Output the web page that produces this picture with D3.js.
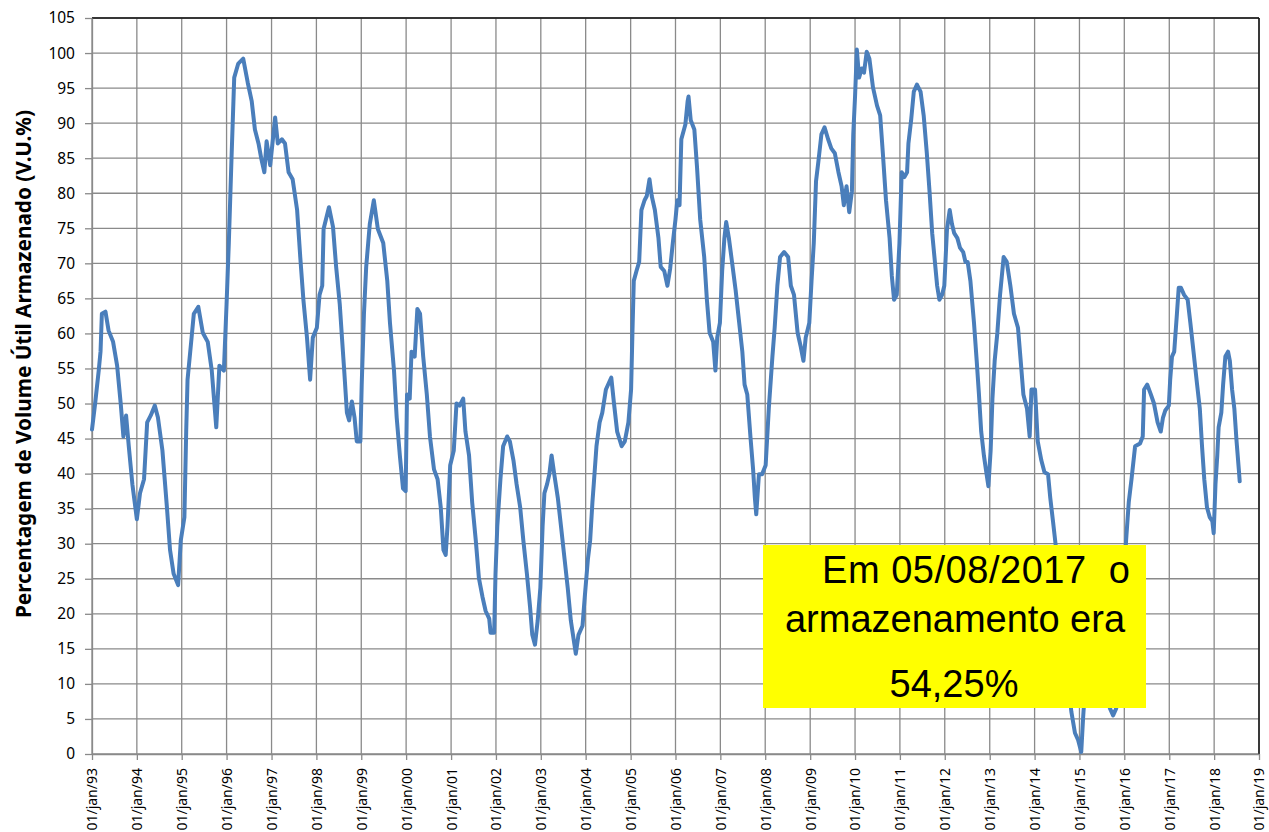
<!DOCTYPE html>
<html>
<head>
<meta charset="utf-8">
<script src="https://cdn.jsdelivr.net/npm/d3@7"></script>
<style>
  body { margin: 0; background: #fff; }
  svg { display: block; }
</style>
</head>
<body>
<svg id="chart" width="1269" height="832"></svg>
<script>
// Série: [ano decimal, % do volume útil]
const serie = [
  [1993.00,46.3],[1993.07,50.0],[1993.15,54.7],[1993.19,57.4],[1993.22,62.8],[1993.30,63.1],[1993.37,60.4],
  [1993.47,58.8],[1993.56,55.4],[1993.64,50.0],[1993.70,45.3],[1993.76,48.3],[1993.82,43.9],[1993.90,38.5],
  [1994.00,33.5],[1994.07,37.2],[1994.16,39.2],[1994.23,47.3],[1994.31,48.3],[1994.40,49.7],[1994.47,48.0],
  [1994.57,43.3],[1994.67,35.2],[1994.74,29.1],[1994.82,25.7],[1994.92,24.1],[1994.98,30.5],[1995.06,33.8],
  [1995.10,46.0],[1995.13,53.4],[1995.22,59.4],[1995.27,62.8],[1995.37,63.8],[1995.47,60.1],[1995.58,58.8],
  [1995.67,54.7],[1995.77,46.6],[1995.84,55.4],[1995.94,54.7],[1996.00,64.2],[1996.05,72.9],[1996.11,85.0],
  [1996.17,96.5],[1996.26,98.5],[1996.37,99.2],[1996.47,95.8],[1996.56,93.1],[1996.63,89.1],[1996.71,87.1],
  [1996.77,85.0],[1996.84,83.0],[1996.89,87.4],[1996.97,84.0],[1997.08,90.8],[1997.14,87.1],[1997.23,87.7],
  [1997.30,87.1],[1997.38,83.0],[1997.47,82.0],[1997.57,77.6],[1997.64,70.9],[1997.71,64.8],[1997.79,59.4],
  [1997.86,53.4],[1997.92,59.4],[1998.01,60.8],[1998.07,65.5],[1998.13,66.8],[1998.16,74.9],[1998.28,78.0],
  [1998.37,75.2],[1998.44,69.5],[1998.52,64.2],[1998.57,59.4],[1998.62,54.7],[1998.68,48.7],[1998.73,47.6],
  [1998.79,50.3],[1998.85,48.0],[1998.90,44.6],[1998.98,44.6],[1999.01,52.7],[1999.06,62.8],[1999.11,69.5],
  [1999.19,75.6],[1999.28,79.0],[1999.37,74.9],[1999.49,72.9],[1999.58,67.5],[1999.64,61.5],[1999.73,54.7],
  [1999.79,48.0],[1999.86,42.6],[1999.93,37.9],[1999.99,37.5],[2000.02,51.3],[2000.08,50.7],[2000.12,57.4],
  [2000.19,56.7],[2000.25,63.5],[2000.31,62.8],[2000.38,56.7],[2000.46,51.3],[2000.53,45.3],[2000.62,40.6],
  [2000.70,39.2],[2000.77,35.2],[2000.83,29.1],[2000.88,28.4],[2000.92,32.5],[2000.98,41.2],[2001.06,43.3],
  [2001.12,50.0],[2001.19,49.7],[2001.27,50.7],[2001.32,46.0],[2001.40,42.6],[2001.47,35.9],[2001.55,30.5],
  [2001.62,25.1],[2001.70,22.4],[2001.77,20.4],[2001.85,19.3],[2001.88,17.3],[2001.96,17.3],[2001.99,25.7],
  [2002.03,32.5],[2002.10,39.2],[2002.16,43.9],[2002.25,45.3],[2002.31,44.6],[2002.39,41.9],[2002.46,38.5],
  [2002.54,35.2],[2002.61,30.5],[2002.69,25.7],[2002.76,21.0],[2002.81,17.0],[2002.87,15.6],[2002.93,19.0],
  [2002.99,23.7],[2003.04,32.5],[2003.08,37.2],[2003.14,38.5],[2003.19,39.9],[2003.24,42.6],[2003.30,39.9],
  [2003.38,36.5],[2003.45,32.5],[2003.53,27.8],[2003.60,23.7],[2003.67,19.0],[2003.75,15.6],[2003.78,14.3],
  [2003.84,17.0],[2003.93,18.3],[2003.98,22.4],[2004.05,27.8],[2004.10,30.5],[2004.15,35.9],[2004.18,38.5],
  [2004.24,43.9],[2004.31,47.3],[2004.37,48.7],[2004.45,52.0],[2004.52,53.0],[2004.57,53.7],[2004.63,50.0],
  [2004.70,46.0],[2004.80,43.9],[2004.87,44.6],[2004.95,47.3],[2005.01,52.0],[2005.04,60.1],[2005.07,67.5],
  [2005.13,68.9],[2005.19,70.2],[2005.24,77.6],[2005.31,79.0],[2005.36,79.6],[2005.42,82.0],[2005.47,79.6],
  [2005.54,77.6],[2005.62,73.6],[2005.67,69.5],[2005.75,68.9],[2005.82,66.8],[2005.88,69.2],[2005.94,72.9],
  [2006.00,76.3],[2006.04,79.0],[2006.09,78.3],[2006.13,87.7],[2006.22,89.8],[2006.27,93.1],[2006.29,93.8],
  [2006.34,90.4],[2006.42,89.1],[2006.48,83.7],[2006.55,76.3],[2006.64,70.9],[2006.70,64.8],[2006.76,60.1],
  [2006.84,58.8],[2006.89,54.7],[2006.93,59.4],[2006.99,61.5],[2007.04,68.9],[2007.09,73.6],[2007.13,75.9],
  [2007.19,73.6],[2007.26,70.2],[2007.34,66.2],[2007.41,62.1],[2007.49,57.4],[2007.54,52.7],[2007.60,51.3],
  [2007.67,45.3],[2007.73,40.6],[2007.77,36.5],[2007.80,34.2],[2007.86,39.9],[2007.93,39.9],[2008.01,41.2],
  [2008.08,49.3],[2008.16,56.7],[2008.21,60.8],[2008.27,66.8],[2008.33,70.9],[2008.42,71.6],[2008.51,70.9],
  [2008.57,66.8],[2008.64,65.5],[2008.72,60.1],[2008.79,58.1],[2008.85,56.1],[2008.90,59.4],[2008.98,61.5],
  [2009.03,67.5],[2009.08,72.9],[2009.13,81.7],[2009.18,84.4],[2009.25,88.4],[2009.32,89.4],[2009.40,87.7],
  [2009.47,86.4],[2009.55,85.7],[2009.63,83.0],[2009.70,81.0],[2009.75,78.3],[2009.81,81.0],[2009.87,77.3],
  [2009.93,80.3],[2009.96,88.4],[2010.00,93.8],[2010.04,100.5],[2010.09,96.5],[2010.15,97.8],[2010.20,97.2],
  [2010.26,100.2],[2010.32,99.2],[2010.40,95.1],[2010.49,92.5],[2010.56,91.1],[2010.62,85.7],[2010.69,79.0],
  [2010.77,73.6],[2010.82,68.2],[2010.87,64.8],[2010.93,65.5],[2010.99,72.9],[2011.04,83.0],[2011.10,82.3],
  [2011.16,83.0],[2011.19,87.1],[2011.25,90.4],[2011.31,94.5],[2011.38,95.5],[2011.46,94.5],[2011.53,91.1],
  [2011.60,85.7],[2011.66,80.3],[2011.72,74.3],[2011.77,70.9],[2011.83,66.8],[2011.88,64.8],[2011.94,65.5],
  [2011.99,66.8],[2012.05,74.9],[2012.11,77.6],[2012.16,75.6],[2012.21,74.3],[2012.28,73.6],[2012.34,72.2],
  [2012.41,71.6],[2012.46,70.2],[2012.51,70.2],[2012.57,67.5],[2012.65,61.5],[2012.71,56.1],[2012.76,51.3],
  [2012.81,46.0],[2012.87,42.6],[2012.93,39.9],[2012.97,38.2],[2013.02,43.3],[2013.06,50.7],[2013.11,56.1],
  [2013.17,60.1],[2013.23,65.5],[2013.31,70.9],[2013.38,70.2],[2013.46,66.8],[2013.54,62.8],[2013.63,60.8],
  [2013.69,56.1],[2013.75,51.3],[2013.83,49.3],[2013.89,45.3],[2013.93,52.0],[2014.01,52.0],[2014.07,44.6],
  [2014.15,41.9],[2014.22,40.2],[2014.30,39.9],[2014.35,36.5],[2014.41,33.2],[2014.47,29.8],[2014.55,24.0],
  [2014.65,17.0],[2014.75,10.0],[2014.82,6.0],[2014.90,3.0],[2014.97,2.0],[2015.04,0.3],[2015.08,5.0],
  [2015.12,9.0],[2015.25,12.0],[2015.40,13.0],[2015.55,10.0],[2015.68,6.5],[2015.75,5.5],[2015.82,6.5],
  [2015.90,12.0],[2015.97,22.0],[2016.04,30.5],[2016.10,36.0],[2016.16,39.2],[2016.24,43.9],[2016.35,44.3],
  [2016.41,45.3],[2016.44,52.0],[2016.51,52.7],[2016.59,51.3],[2016.66,50.0],[2016.74,47.3],[2016.81,46.0],
  [2016.86,48.0],[2016.91,49.0],[2016.99,49.7],[2017.02,53.4],[2017.06,56.7],[2017.11,57.4],[2017.17,62.8],
  [2017.21,66.5],[2017.26,66.5],[2017.33,65.5],[2017.41,64.8],[2017.47,61.5],[2017.54,57.4],[2017.62,52.7],
  [2017.68,49.3],[2017.73,43.9],[2017.78,39.2],[2017.84,35.2],[2017.90,33.8],[2017.96,33.2],[2017.99,31.5],
  [2018.03,38.5],[2018.07,42.6],[2018.10,46.6],[2018.16,48.7],[2018.20,52.7],[2018.25,56.7],[2018.31,57.4],
  [2018.35,56.1],[2018.40,52.0],[2018.45,49.3],[2018.50,44.6],[2018.55,40.6],[2018.57,38.9]
]

// Eixos
const anoInicio = 1993
const anoFim = 2019
const yTicks = d3.range(0, 106, 5)
const tituloY = 'Percentagem de Volume Útil Armazenado (V.U.%)'
const notaLinhas = ['Em 05/08/2017  o', 'armazenamento era', '54,25%']

// ano decimal -> Date
let paraData = (a) => {
    let ano = Math.floor(a)
    let ini = new Date(ano, 0, 1)
    let fim = new Date(ano + 1, 0, 1)
    return new Date(ini.getTime() + (a - ano) * (fim - ini))
}

const ptBR = d3.timeFormatLocale({
    dateTime: '%d/%m/%Y %H:%M:%S', date: '%d/%m/%Y', time: '%H:%M:%S',
    periods: ['AM', 'PM'],
    days: ['domingo','segunda','terça','quarta','quinta','sexta','sábado'],
    shortDays: ['dom','seg','ter','qua','qui','sex','sáb'],
    months: ['janeiro','fevereiro','março','abril','maio','junho','julho','agosto','setembro','outubro','novembro','dezembro'],
    shortMonths: ['jan','fev','mar','abr','mai','jun','jul','ago','set','out','nov','dez']
})
const fmtData = ptBR.format('%d/%b/%y')

const svg = d3.select('#chart')
const mLeft = 92, mRight = 1259, mTop = 18, mBottom = 754

const x = d3.scaleTime()
    .domain([new Date(anoInicio, 0, 1), new Date(anoFim, 0, 1)])
    .range([mLeft, mRight])
const y = d3.scaleLinear().domain([0, 105]).range([mBottom, mTop])

const anos = d3.range(anoInicio, anoFim + 1).map(a => new Date(a, 0, 1))
const fonte = "'Noto Sans', sans-serif"

// grade
svg.append('g')
    .selectAll('line')
    .data(yTicks)
    .join('line')
    .attr('x1', mLeft).attr('x2', mRight)
    .attr('y1', d => y(d)).attr('y2', d => y(d))
    .attr('stroke', '#8a8a8a').attr('stroke-width', 1.3)

svg.append('g')
    .selectAll('line')
    .data(anos)
    .join('line')
    .attr('x1', d => x(d)).attr('x2', d => x(d))
    .attr('y1', mTop).attr('y2', mBottom)
    .attr('stroke', '#8a8a8a').attr('stroke-width', 1.3)

// borda superior e direita
svg.append('line').attr('x1', mLeft).attr('x2', mRight).attr('y1', mTop).attr('y2', mTop)
    .attr('stroke', '#111').attr('stroke-width', 1.5)
svg.append('line').attr('x1', mRight).attr('x2', mRight).attr('y1', mTop).attr('y2', mBottom)
    .attr('stroke', '#111').attr('stroke-width', 1.5)

// eixo Y
let eixoY = svg.append('g')
    .attr('transform', `translate(${mLeft},0)`)
    .call(d3.axisLeft(y).tickValues(yTicks).tickSize(7).tickPadding(10).tickSizeOuter(0))
eixoY.select('.domain').attr('stroke', '#8a8a8a').attr('stroke-width', 1.3)
eixoY.selectAll('.tick line').attr('stroke', '#8a8a8a').attr('stroke-width', 1.3)
eixoY.selectAll('text').attr('font-family', fonte).attr('font-size', 15.5).attr('fill', '#000')

// eixo X (rótulos verticais)
let eixoX = svg.append('g')
    .attr('transform', `translate(0,${mBottom})`)
    .call(d3.axisBottom(x).tickValues(anos).tickFormat(fmtData).tickSize(6).tickSizeOuter(0))
eixoX.select('.domain').attr('stroke', '#8a8a8a').attr('stroke-width', 1.3)
eixoX.selectAll('.tick line').attr('stroke', '#8a8a8a').attr('stroke-width', 1.3)
eixoX.selectAll('text')
    .attr('font-family', fonte).attr('font-size', 14).attr('fill', '#000')
    .attr('transform', 'rotate(-90)')
    .attr('text-anchor', 'end')
    .attr('x', -14).attr('y', 0).attr('dy', '0.35em')

// título do eixo Y
svg.append('text')
    .attr('transform', 'translate(31,364) rotate(-90)')
    .attr('text-anchor', 'middle')
    .attr('font-family', fonte).attr('font-weight', 'bold').attr('font-size', 22)
    .attr('textLength', 508).attr('lengthAdjust', 'spacingAndGlyphs')
    .text(tituloY)

// linha
const linha = d3.line()
    .x(d => x(paraData(d[0])))
    .y(d => y(d[1]))

svg.append('path')
    .datum(serie)
    .attr('d', linha)
    .attr('fill', 'none')
    .attr('stroke', '#4a7ebb')
    .attr('stroke-width', 4)
    .attr('stroke-linejoin', 'round')
    .attr('stroke-linecap', 'round')

// caixa amarela
svg.append('rect')
    .attr('x', 763).attr('y', 545).attr('width', 383).attr('height', 163)
    .attr('fill', '#ffff00')

const nota = svg.append('g')
    .attr('font-family', "'Liberation Sans', Arial, sans-serif")
    .attr('font-size', 38).attr('fill', '#000')
nota.append('text').attr('x', 822).attr('y', 583)
    .style('white-space', 'pre')
    .attr('textLength', 308).attr('lengthAdjust', 'spacing')
    .text(notaLinhas[0])
nota.append('text').attr('x', 955).attr('y', 632).attr('text-anchor', 'middle')
    .text(notaLinhas[1])
nota.append('text').attr('x', 954).attr('y', 697).attr('text-anchor', 'middle')
    .text(notaLinhas[2])
</script>
</body>
</html>
